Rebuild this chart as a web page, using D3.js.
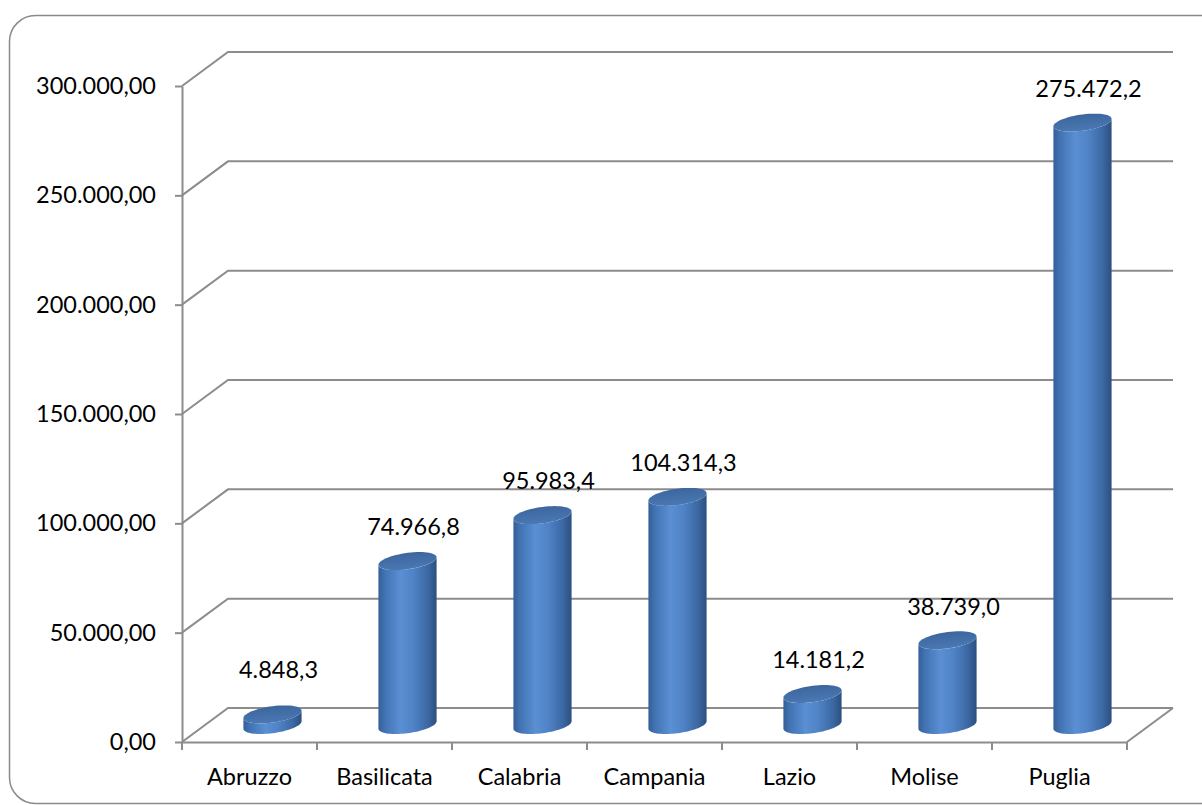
<!DOCTYPE html>
<html>
<head>
<meta charset="utf-8">
<script src="https://cdn.jsdelivr.net/npm/d3@7"></script>
<style>
  html, body { margin: 0; padding: 0; background: #fff; }
  svg text { font-family: Lato, "Open Sans", sans-serif; fill: #000; }
</style>
</head>
<body>
<div id="chart"></div>
<script>
const regions = ['Abruzzo', 'Basilicata', 'Calabria', 'Campania', 'Lazio', 'Molise', 'Puglia'];
const values = [4848.3, 74966.8, 95983.4, 104314.3, 14181.2, 38739.0, 275472.2];
const yTicks = [0, 50000, 100000, 150000, 200000, 250000, 300000];

const width = 1202;
const height = 805;
const plotLeft = 182, plotRight = 1127, plotTop = 86, plotBottom = 742;
const depthX = 46, depthY = -34;   // back wall offset
const fontSize = 23.5;

const it = d3.formatLocale({ decimal: ',', thousands: '.', grouping: [3], currency: ['€', ''] });
const fmtAxis = it.format(',.2f');
const fmtLabel = it.format(',.1f');

const svg = d3.select('#chart')
  .append('svg')
  .attr('width', width)
  .attr('height', height);

// outer frame
svg.append('rect')
  .attr('x', 9.5).attr('y', 15.5)
  .attr('width', 1230).attr('height', 788)
  .attr('rx', 26)
  .attr('fill', '#fff')
  .attr('stroke', '#8a8a8a')
  .attr('stroke-width', 1.5);

const x = d3.scaleBand().domain(regions).range([plotLeft, plotRight]).padding(0);
const y = d3.scaleLinear().domain([0, 300000]).range([plotBottom, plotTop]);

const gridColor = '#8c8c8c';

// side wall diagonals + back wall gridlines
const grid = svg.append('g').attr('fill', 'none').attr('stroke', gridColor).attr('stroke-width', 2);
yTicks.forEach(v => {
  grid.append('path')
    .attr('d', d3.line()([
      [plotLeft, y(v)],
      [plotLeft + depthX, y(v) + depthY],
      [plotRight + depthX, y(v) + depthY]
    ]));
});
// floor right edge
grid.append('path')
  .attr('d', d3.line()([[plotRight, y(0)], [plotRight + depthX, y(0) + depthY]]));

// y axis
const yAxis = svg.append('g')
  .attr('transform', `translate(${plotLeft},0)`)
  .call(d3.axisLeft(y).tickValues(yTicks).tickFormat(fmtAxis).tickSize(7).tickSizeOuter(0).tickPadding(19));
yAxis.select('.domain').attr('stroke', gridColor).attr('stroke-width', 2);
yAxis.selectAll('.tick line').attr('stroke', gridColor).attr('stroke-width', 2);
yAxis.selectAll('.tick text')
  .attr('font-size', fontSize)
  .attr('font-family', 'Lato, sans-serif')
  .attr('fill', '#000');

// x axis (front floor edge)
const xAxis = svg.append('g')
  .attr('transform', `translate(0,${plotBottom})`)
  .call(d3.axisBottom(x).tickSize(0).tickSizeOuter(0).tickPadding(26));
xAxis.select('.domain').attr('stroke', gridColor).attr('stroke-width', 2);
xAxis.selectAll('.tick text')
  .attr('font-size', fontSize)
  .attr('font-family', 'Lato, sans-serif')
  .attr('fill', '#000');

// category boundary ticks
svg.append('g')
  .selectAll('line')
  .data(d3.range(regions.length + 1))
  .enter()
  .append('line')
  .attr('x1', i => plotLeft + i * x.step())
  .attr('x2', i => plotLeft + i * x.step())
  .attr('y1', plotBottom)
  .attr('y2', plotBottom + 8)
  .attr('stroke', gridColor)
  .attr('stroke-width', 2);

// cylinder gradients
const defs = svg.append('defs');
const bodyGrad = defs.append('linearGradient').attr('id', 'body').attr('x1', 0).attr('x2', 1).attr('y1', 0).attr('y2', 0);
[['0%', '#355f98'], ['12%', '#4274b4'], ['38%', '#5b8fd3'], ['60%', '#4f83c6'], ['85%', '#3c68a3'], ['100%', '#2c4f80']]
  .forEach(s => bodyGrad.append('stop').attr('offset', s[0]).attr('stop-color', s[1]));
const topGrad = defs.append('linearGradient').attr('id', 'cap').attr('x1', 0).attr('x2', 0.3).attr('y1', 0).attr('y2', 1);
[['0%', '#3a6299'], ['100%', '#4a78b3']]
  .forEach(s => topGrad.append('stop').attr('offset', s[0]).attr('stop-color', s[1]));

// ellipse of a cylinder section: u along x, v along depth
const ux = 26.5, vx = 12, vy = -9;
const phi = Math.atan2(vx, ux);
const pt = (cx, cy, t) => [cx + ux * Math.cos(t) + vx * Math.sin(t), cy + vy * Math.sin(t)];

function bodyPath(cx, yBase, yTop) {
  const tL = Math.PI + phi, tR = 2 * Math.PI + phi;
  const n = 40;
  const pts = [pt(cx, yTop, tL)];
  for (let i = 0; i <= n; i++) pts.push(pt(cx, yBase, tL + (tR - tL) * i / n));
  for (let i = n; i >= 0; i--) pts.push(pt(cx, yTop, tL + (tR - tL) * i / n));
  return d3.line()(pts) + 'Z';
}
function capPath(cx, yTop) {
  const pts = d3.range(0, 61).map(i => pt(cx, yTop, 2 * Math.PI * i / 60));
  return d3.line()(pts) + 'Z';
}

const data = regions.map((r, i) => ({ region: r, value: values[i] }));
const cx = d => x(d.region) + x.bandwidth() / 2 + depthX / 2;
const base = y(0) + depthY / 2;
const topY = d => y(d.value) + depthY / 2;

const bars = svg.append('g').selectAll('g')
  .data(data)
  .enter()
  .append('g');

bars.append('path')
  .attr('d', d => bodyPath(cx(d), base, topY(d)))
  .attr('fill', 'url(#body)');

bars.append('path')
  .attr('d', d => capPath(cx(d), topY(d)))
  .attr('fill', 'url(#cap)');

bars.append('text')
  .attr('x', d => cx(d) + 6)
  .attr('y', d => Math.min(topY(d) - 34, base - 55))
  .attr('dy', '0.35em')
  .attr('text-anchor', 'middle')
  .attr('font-size', fontSize)
  .text(d => fmtLabel(d.value));
</script>
</body>
</html>
